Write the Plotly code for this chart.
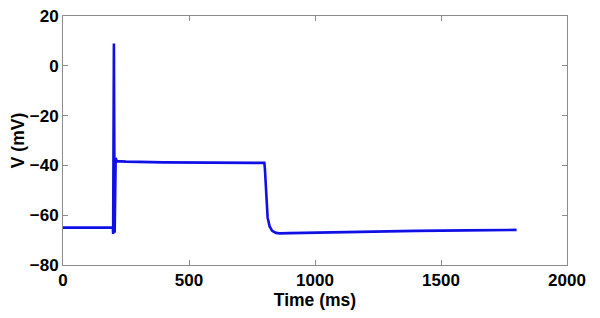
import plotly.graph_objects as go

# membrane voltage trace
time_ms = [0, 198, 199, 202, 205, 207, 209, 213, 250, 400, 600, 799,
           801, 803, 807, 812, 820, 830, 845, 860, 900, 1000, 1200,
           1400, 1600, 1800]
voltage_mv = [-65, -65, -67.5, 9, -67, -45, -37, -38.3, -38.5, -38.8, -39, -39,
              -41, -46, -55, -61, -64.5, -66.3, -67.1, -67.3, -67.2, -67.0,
              -66.6, -66.3, -66.1, -65.9]

x_ticks = [0, 500, 1000, 1500, 2000]
y_ticks = [-80, -60, -40, -20, 0, 20]

fig = go.Figure()
fig.add_trace(go.Scatter(x=time_ms, y=voltage_mv, mode='lines',
                         line=dict(color='#1010e6', width=2.6)))

tick_font = dict(family='Liberation Sans', size=17, color='black', weight='bold')
title_font = dict(family='Liberation Sans', size=17.5, color='black', weight='bold')
common = dict(showgrid=False, zeroline=False, showline=True, linecolor='#8c8c8c',
              linewidth=1, mirror='ticks', ticks='inside', ticklen=5,
              tickcolor='#8c8c8c', tickfont=tick_font, automargin=False)

fig.update_layout(
    width=600, height=318,
    margin=dict(l=63, r=33, t=16, b=53),
    paper_bgcolor='white', plot_bgcolor='white',
    showlegend=False,
    xaxis=dict(range=[0, 2000], tickvals=x_ticks,
               title=dict(text='Time (ms)', font=title_font, standoff=2), **common),
    yaxis=dict(range=[-80, 20], tickvals=y_ticks,
               title=dict(text='V (mV)', font=title_font, standoff=0), **common),
)

# drop the page's default body margin so the figure sits at the window origin
fig.write_html('out.html', config={'displayModeBar': False},
               post_script="document.body.style.margin='0';document.body.style.overflow='hidden';")
